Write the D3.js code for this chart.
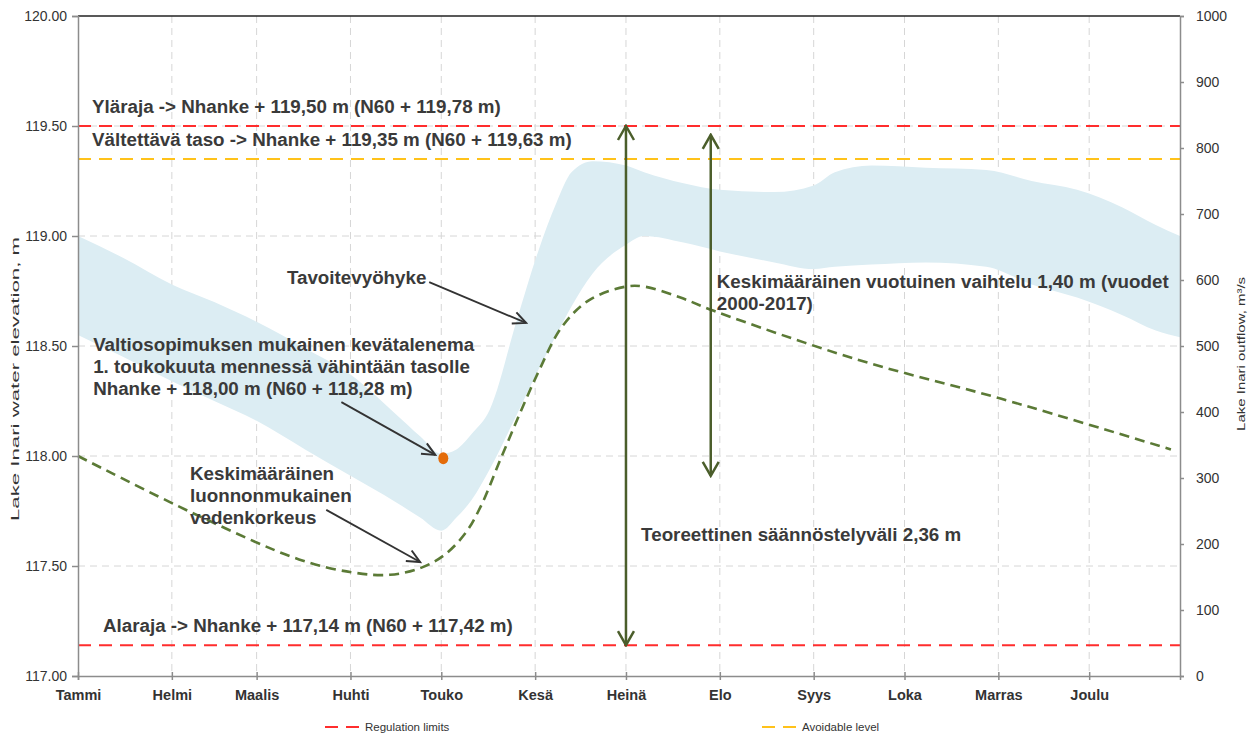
<!DOCTYPE html>
<meta charset="utf-8">
<head>
  <title>Inarijärven säännöstely</title>
</head>
<style>
  body { margin: 0; background: #fff; }
  svg { font-family: "Liberation Sans", Arial, sans-serif; }
  .grid line { stroke: #d6d6d6; stroke-width: 1; stroke-dasharray: 7,5; }
  .axis path, .axis line { stroke: #8c8c8c; stroke-width: 1.5; }
  .axis text { font-size: 14px; fill: #333; }
  .month text { font-size: 14.5px; font-weight: bold; fill: #333; }
  .note { font-size: 18.8px; font-weight: bold; fill: #3a3a3a; }
  .legend text { font-size: 11.5px; fill: #333; }
  .axisTitle { font-size: 11.5px; fill: #333; }
</style>
<body>
<script src="https://d3js.org/d3.v7.min.js"></script>
<script>
// target band (Tavoitevyöhyke), m
var bandDates = ["2017-01-01","2017-01-16","2017-02-01","2017-02-15","2017-03-01","2017-03-17",
  "2017-04-01","2017-04-16","2017-04-24","2017-05-01","2017-05-06","2017-05-11","2017-05-17",
  "2017-05-26","2017-06-02","2017-06-08","2017-06-13","2017-06-20","2017-07-01","2017-07-07",
  "2017-07-20","2017-08-01","2017-08-19","2017-09-01","2017-09-08","2017-09-20","2017-10-08",
  "2017-10-28","2017-11-12","2017-11-27","2017-12-12","2017-12-23","2017-12-31"];
var bandUpper = [119.00,118.90,118.78,118.70,118.61,118.49,118.37,118.19,118.09,118.01,118.03,
  118.10,118.21,118.62,118.93,119.15,119.29,119.34,119.32,119.29,119.24,119.21,119.20,119.23,
  119.29,119.32,119.31,119.30,119.25,119.21,119.13,119.05,119.00];
var bandLower = [118.55,118.45,118.34,118.25,118.16,118.03,117.91,117.79,117.72,117.66,117.72,
  117.80,117.94,118.19,118.39,118.55,118.68,118.83,118.96,119.00,118.97,118.93,118.88,118.85,
  118.86,118.87,118.88,118.86,118.78,118.72,118.64,118.57,118.54];

// average natural water level (dashed green)
var naturalDates = ["2017-01-01","2017-02-08","2017-03-15","2017-04-02","2017-04-14","2017-04-24",
  "2017-05-02","2017-05-09","2017-05-14","2017-05-21","2017-06-02","2017-06-10","2017-06-19",
  "2017-07-01","2017-07-07","2017-07-19","2017-07-30","2017-09-15","2017-11-02","2017-12-28"];
var naturalLevel = [118.00,117.74,117.53,117.47,117.46,117.49,117.55,117.65,117.77,118.00,118.38,
  118.59,118.71,118.77,118.77,118.72,118.66,118.44,118.26,118.03];

var monthLabels = ["Tammi","Helmi","Maalis","Huhti","Touko","Kesä","Heinä","Elo","Syys","Loka","Marras","Joulu"];
var levelTicks = [117.0, 117.5, 118.0, 118.5, 119.0, 119.5, 120.0];
var flowTicks = [0,100,200,300,400,500,600,700,800,900,1000];

var regulationLimits = [119.50, 117.14];
var avoidableLevel = [119.35];
var springTarget = {date: "2017-05-01", level: 117.99};

var limitLabels = ["Yläraja -> Nhanke + 119,50 m (N60 + 119,78 m)",
                   "Vältettävä taso -> Nhanke + 119,35 m (N60 + 119,63 m)",
                   "Alaraja -> Nhanke + 117,14 m (N60 + 117,42 m)"];
var limitLabelLevels = [119.50, 119.35, 117.14];

var margin = {top: 16, right: 75, bottom: 60, left: 78},
    width = 1255 - margin.left - margin.right,
    height = 736 - margin.top - margin.bottom;

var parse = d3.timeParse("%Y-%m-%d");

var x = d3.scaleTime()
    .domain([parse("2017-01-01"), parse("2017-12-31")])
    .range([0, width]);
var y = d3.scaleLinear().domain([117, 120]).range([height, 0]);
var yFlow = d3.scaleLinear().domain([0, 1000]).range([height, 0]);

var svg = d3.select("body").append("svg")
    .attr("width", 1255)
    .attr("height", 736);

var defs = svg.append("defs");
function marker(id, color, len, half, sw) {
  defs.append("marker")
      .attr("id", id)
      .attr("viewBox", (-len - 2) + " " + (-half - 2) + " " + (len + 4) + " " + (2 * half + 4))
      .attr("markerWidth", len + 4)
      .attr("markerHeight", 2 * half + 4)
      .attr("markerUnits", "userSpaceOnUse")
      .attr("refX", 0).attr("refY", 0)
      .attr("orient", "auto-start-reverse")
    .append("path")
      .attr("d", "M" + (-len) + "," + (-half) + "L0,0L" + (-len) + "," + half)
      .attr("fill", "none")
      .attr("stroke", color)
      .attr("stroke-width", sw);
}
marker("headGray", "#333", 13, 6, 2);
marker("headGreen", "#4b5e2b", 14, 8, 2.5);

var g = svg.append("g")
    .attr("transform", "translate(" + margin.left + "," + margin.top + ")");

var months = d3.timeMonth.range(parse("2017-01-01"), parse("2017-12-31"));

// grid
g.append("g").attr("class", "grid")
  .selectAll("line").data(levelTicks.filter(function(d) { return d > 117 && d < 120; }))
  .enter().append("line")
    .attr("x1", 0).attr("x2", width)
    .attr("y1", y).attr("y2", y);
g.append("g").attr("class", "grid")
  .selectAll("line").data(months.slice(1))
  .enter().append("line")
    .attr("x1", x).attr("x2", x)
    .attr("y1", 0).attr("y2", height);

// target band
var bandData = bandDates.map(function(d, i) {
  return {date: parse(d), hi: bandUpper[i], lo: bandLower[i]};
});
g.append("path")
  .datum(bandData)
  .attr("fill", "#dcedf3")
  .attr("d", d3.area()
      .x(function(d) { return x(d.date); })
      .y0(function(d) { return y(d.lo); })
      .y1(function(d) { return y(d.hi); })
      .curve(d3.curveMonotoneX));

// limit lines
g.selectAll(".limit").data(regulationLimits).enter().append("line")
    .attr("class", "limit")
    .attr("x1", 0).attr("x2", width)
    .attr("y1", y).attr("y2", y)
    .attr("stroke", "#ff2d2d").attr("stroke-width", 2)
    .attr("stroke-dasharray", "13,8");
g.selectAll(".avoid").data(avoidableLevel).enter().append("line")
    .attr("class", "avoid")
    .attr("x1", 0).attr("x2", width)
    .attr("y1", y).attr("y2", y)
    .attr("stroke", "#ffc21a").attr("stroke-width", 2)
    .attr("stroke-dasharray", "13,8");

// natural level
var naturalData = naturalDates.map(function(d, i) { return {date: parse(d), v: naturalLevel[i]}; });
g.append("path")
  .datum(naturalData)
  .attr("fill", "none")
  .attr("stroke", "#5b7a36")
  .attr("stroke-width", 2.6)
  .attr("stroke-dasharray", "10,6")
  .attr("d", d3.line()
      .x(function(d) { return x(d.date); })
      .y(function(d) { return y(d.v); })
      .curve(d3.curveCatmullRom.alpha(0.5)));

// axes
g.append("line").attr("x1", 0).attr("x2", width).attr("y1", 0).attr("y2", 0)
  .attr("stroke", "#222").attr("stroke-width", 1.5);

g.append("g").attr("class", "axis")
  .call(d3.axisLeft(y).tickValues(levelTicks).tickFormat(d3.format(".2f")).tickSizeOuter(0).tickSize(6).tickPadding(5));
g.append("g").attr("class", "axis")
  .attr("transform", "translate(" + width + ",0)")
  .call(d3.axisRight(yFlow).tickValues(flowTicks).tickFormat(d3.format("d")).tickSizeOuter(0).tickSize(4).tickPadding(12));
var xAxis = g.append("g").attr("class", "axis month")
  .attr("transform", "translate(0," + height + ")")
  .call(d3.axisBottom(x).tickValues(months).tickSizeOuter(0).tickSize(4).tickPadding(10)
      .tickFormat(function(d, i) { return monthLabels[i]; }));
xAxis.selectAll(".tick line").attr("y1", -4);
g.selectAll(".axis text").attr("font-family", "Liberation Sans, Arial, sans-serif");

// axis titles
svg.append("text").attr("class", "axisTitle")
  .attr("transform", "translate(19," + (margin.top + y(118.35)) + ") rotate(-90)")
  .attr("text-anchor", "middle")
  .attr("textLength", 284).attr("lengthAdjust", "spacingAndGlyphs")
  .text("Lake Inari water elevation, m");
svg.append("text").attr("class", "axisTitle")
  .attr("transform", "translate(1245," + (margin.top + yFlow(488)) + ") rotate(-90)")
  .attr("text-anchor", "middle")
  .attr("textLength", 154).attr("lengthAdjust", "spacingAndGlyphs")
  .text("Lake Inari outflow, m³/s");

// spring target dot
g.append("ellipse")
  .attr("cx", x(parse(springTarget.date)) + 2)
  .attr("cy", y(springTarget.level))
  .attr("rx", 5).attr("ry", 6)
  .attr("fill", "#e46c0a");

// limit labels
g.selectAll(".limitLabel").data(limitLabels).enter().append("text")
  .attr("class", "note")
  .attr("x", function(d, i) { return i === 2 ? 25 : 14; })
  .attr("y", function(d, i) { return y(limitLabelLevels[i]) - 13; })
  .text(function(d) { return d; });

// notes
var notes = [
  {date: "2017-03-11", level: 118.78, lines: ["Tavoitevyöhyke"]},
  {date: "2017-01-06", level: 118.477, lines: ["Valtiosopimuksen mukainen kevätalenema",
      "1. toukokuuta mennessä vähintään tasolle", "Nhanke + 118,00 m (N60 + 118,28 m)"]},
  {date: "2017-02-07", level: 117.891, lines: ["Keskimääräinen", "luonnonmukainen", "vedenkorkeus"]},
  {date: "2017-07-06", level: 117.614, lines: ["Teoreettinen säännöstelyväli 2,36 m"]},
  {date: "2017-07-31", level: 118.764, lines: ["Keskimääräinen vuotuinen vaihtelu 1,40 m (vuodet", "2000-2017)"]}
];
notes.forEach(function(n) {
  var t = g.append("text").attr("class", "note")
    .attr("x", x(parse(n.date)))
    .attr("y", y(n.level));
  n.lines.forEach(function(l, i) {
    t.append("tspan").attr("x", x(parse(n.date))).attr("dy", i ? 22 : 0).text(l);
  });
});

// pointer arrows
var pointers = [
  {from: ["2017-04-27", 118.79], to: ["2017-05-29", 118.605]},
  {from: ["2017-03-29", 118.245], to: ["2017-04-29", 118.005]},
  {from: ["2017-03-24", 117.755], to: ["2017-04-24", 117.518]}
];
pointers.forEach(function(p) {
  g.append("line")
    .attr("x1", x(parse(p.from[0]))).attr("y1", y(p.from[1]))
    .attr("x2", x(parse(p.to[0]))).attr("y2", y(p.to[1]))
    .attr("stroke", "#333").attr("stroke-width", 1.8)
    .attr("marker-end", "url(#headGray)");
});

// range arrows
var ranges = [
  {date: "2017-07-01", lo: 117.14, hi: 119.50},
  {date: "2017-07-29", lo: 117.91, hi: 119.46}
];
ranges.forEach(function(r) {
  g.append("line")
    .attr("x1", x(parse(r.date))).attr("x2", x(parse(r.date)))
    .attr("y1", y(r.lo)).attr("y2", y(r.hi))
    .attr("stroke", "#4b5e2b").attr("stroke-width", 2.5)
    .attr("marker-start", "url(#headGreen)")
    .attr("marker-end", "url(#headGreen)");
});

// legend
var legend = svg.append("g").attr("class", "legend");
[{x: 325, color: "#ff2d2d", label: "Regulation limits"},
 {x: 762, color: "#ffc21a", label: "Avoidable level"}].forEach(function(l) {
  legend.append("line")
    .attr("x1", l.x).attr("x2", l.x + 34).attr("y1", 727).attr("y2", 727)
    .attr("stroke", l.color).attr("stroke-width", 2).attr("stroke-dasharray", "13,8");
  legend.append("text").attr("x", l.x + 40).attr("y", 731).text(l.label);
});
</script>
</body>
